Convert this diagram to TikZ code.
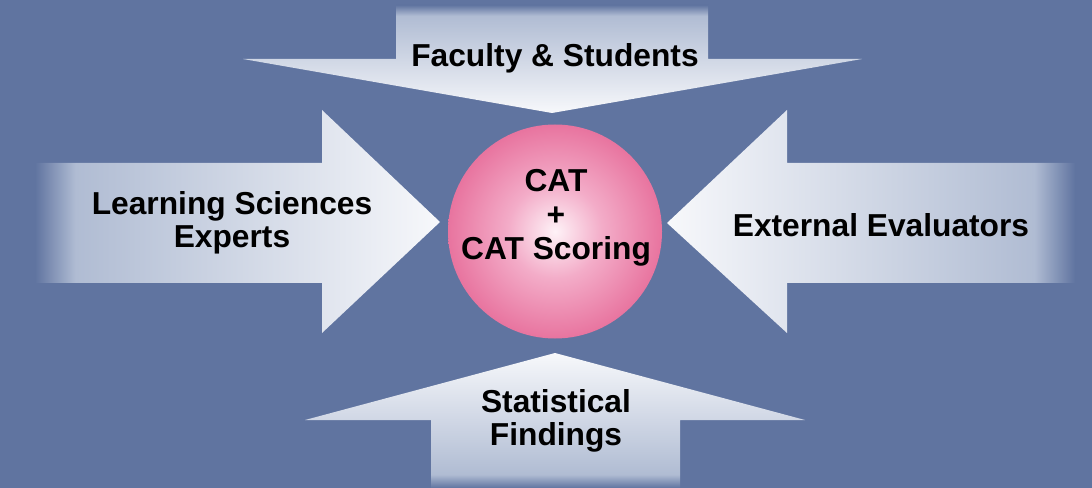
\documentclass[tikz,border=0pt]{standalone}
\usepackage{fontspec}
\setmainfont{Liberation Sans}

\definecolor{bgblue}{RGB}{96,116,160}
\definecolor{tailgray}{RGB}{176,188,211}
\definecolor{tipwhite}{RGB}{247,248,251}
\definecolor{ballout}{RGB}{232,116,159}
\definecolor{ballmid}{RGB}{243,172,200}
\definecolor{ballin}{RGB}{254,242,247}

\pgfdeclarehorizontalshading{arrowfade}{100bp}{color(0bp)=(bgblue); color(25bp)=(bgblue); color(30bp)=(tailgray); color(75bp)=(tipwhite); color(100bp)=(tipwhite)}
\pgfdeclareradialshading{catball}{\pgfpoint{0bp}{0bp}}{color(0bp)=(ballin); color(11bp)=(ballmid); color(25bp)=(ballout); color(50bp)=(ballout)}

\begin{document}
\begin{tikzpicture}[x=0.75pt, y=-0.75pt]
    \tikzstyle{arrowbody} = [shading=arrowfade];
    \tikzstyle{arrowtext} = [font=\bfseries\fontsize{23.8}{24.75}\selectfont, align=center, text=black, inner sep=0pt];
    \tikzstyle{ball} = [circle, shading=catball, minimum size=160.5pt, inner sep=0pt];
    \fill [bgblue] (0,0) rectangle (1092,488);
    % the four arrows
    \shade [arrowbody, shading angle=270] (396,5) -- (708,5) -- (708,59) -- (862,59) -- (552,113) -- (243,59) -- (396,59) -- cycle;
    \shade [arrowbody, shading angle=0] (35,163) -- (322,163) -- (322,110) -- (440,222) -- (322,333) -- (322,283) -- (35,283) -- cycle;
    \shade [arrowbody, shading angle=180] (1075,163) -- (787,163) -- (787,110) -- (667,223) -- (787,333) -- (787,283) -- (1075,283) -- cycle;
    \shade [arrowbody, shading angle=90] (431,488) -- (431,420) -- (305,420) -- (555,353) -- (805,420) -- (680,420) -- (680,488) -- cycle;
    % centre
    \node [ball] (ball) at (555,231.5) {};
    \node [arrowtext, font=\bfseries\fontsize{23.8}{25.5}\selectfont] (cat) at (556,218) {CAT\\+\\CAT Scoring};
    \node [arrowtext] (faculty) at (555,58.5) {Faculty \& Students};
    \node [arrowtext] (experts) at (232,223) {Learning Sciences\\Experts};
    \node [arrowtext] (evaluators) at (881,225.5) {External Evaluators};
    \node [arrowtext] (findings) at (556,420.5) {Statistical\\Findings};
\end{tikzpicture}
\end{document}
